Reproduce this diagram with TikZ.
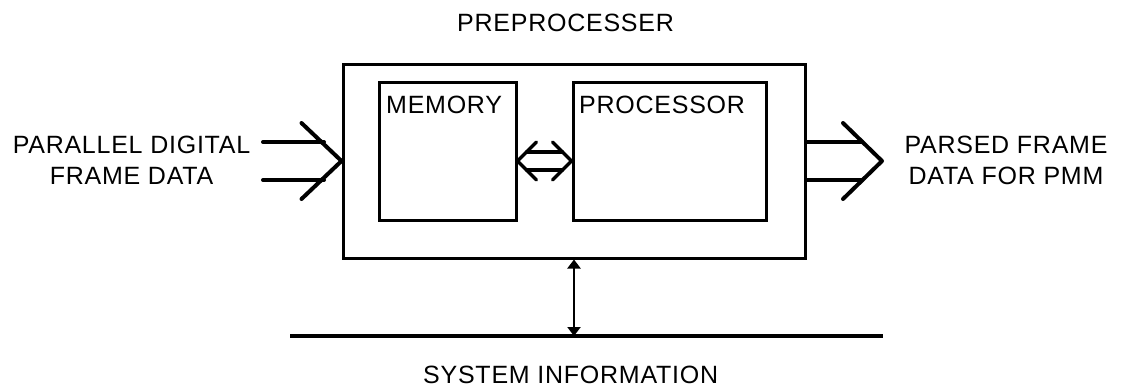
\documentclass[tikz,border=0pt]{standalone}
\usepackage{fontspec}
\setmainfont{Liberation Sans}[LetterSpace=3]
\usetikzlibrary{arrows.meta,calc}

\begin{document}
\begin{tikzpicture}[x=1pt,y=-1pt,
  box/.style={draw,line width=3pt,rectangle,inner sep=0pt},
  lbl/.style={font=\fontsize{25}{30}\selectfont,inner sep=0pt},
  wide/.style={line width=4pt,line cap=round,line join=round},
  link/.style={line width=3.2pt,line cap=round,line join=round},
  bus/.style={line width=3.2pt},
  sysarrow/.style={line width=2.8pt,{Triangle[length=9pt,width=13pt]}-{Triangle[length=9pt,width=13pt]}}
]
\useasboundingbox (0,0) rectangle (1122,388);

% boxes
\node[box,minimum width=462pt,minimum height=194pt] (pre) at (574,161) {};
\node[box,minimum width=137pt,minimum height=138pt] (mem) at (447.5,151) {};
\node[box,minimum width=193pt,minimum height=138pt] (proc) at (669.5,151) {};

% texts
\node[lbl,anchor=base west] (pret) at (457,31) {PREPROCESSER};
\node[lbl,anchor=base west] (memt) at (386,113) {MEMORY};
\node[lbl,anchor=base west] (proct) at (579,113) {PROCESSOR};
\node[lbl,anchor=base] (in1) at (131.5,153) {PARALLEL DIGITAL};
\node[lbl,anchor=base] (in2) at (131.5,184) {FRAME DATA};
\node[lbl,anchor=base] (out1) at (1006,153) {PARSED FRAME};
\node[lbl,anchor=base] (out2) at (1006,184) {DATA FOR PMM};
\node[lbl,anchor=base west] (syst) at (423,383) {SYSTEM INFORMATION};

% input bus arrow
\coordinate (inA) at (263,142);
\coordinate (inB) at (263,180);
\coordinate (inTip) at ($(pre.west)$);
\draw[wide] (inA) -- (inA -| 324,0);
\draw[wide] (inB) -- (inB -| 324,0);
\draw[wide] ($(inTip)+(-40,-38)$) -- (inTip) -- ($(inTip)+(-40,38)$);

% output bus arrow
\coordinate (outTip) at (882,161);
\draw[wide] (pre.east |- inA) -- (862,142);
\draw[wide] (pre.east |- inB) -- (862,180);
\draw[wide] ($(outTip)+(-39,-38)$) -- (outTip) -- ($(outTip)+(-39,38)$);

% memory <-> processor link
\coordinate (dl) at ($(mem.east)+(0,10)$);
\coordinate (dr) at ($(proc.west)+(0,10)$);
\draw[link] ($(dl)+(9,-9)$) -- ($(dr)+(-9,-9)$);
\draw[link] ($(dl)+(9,9)$) -- ($(dr)+(-9,9)$);
\draw[link] ($(dl)+(19,-19)$) -- (dl) -- ($(dl)+(19,19)$);
\draw[link] ($(dr)+(-19,-19)$) -- (dr) -- ($(dr)+(-19,19)$);

% system information bus
\coordinate (busL) at (290,336);
\coordinate (busR) at (883,336);
\draw[bus] (busL) -- (busR);
\draw[sysarrow] (pre.south) -- (pre.south |- busL);
\end{tikzpicture}
\end{document}
